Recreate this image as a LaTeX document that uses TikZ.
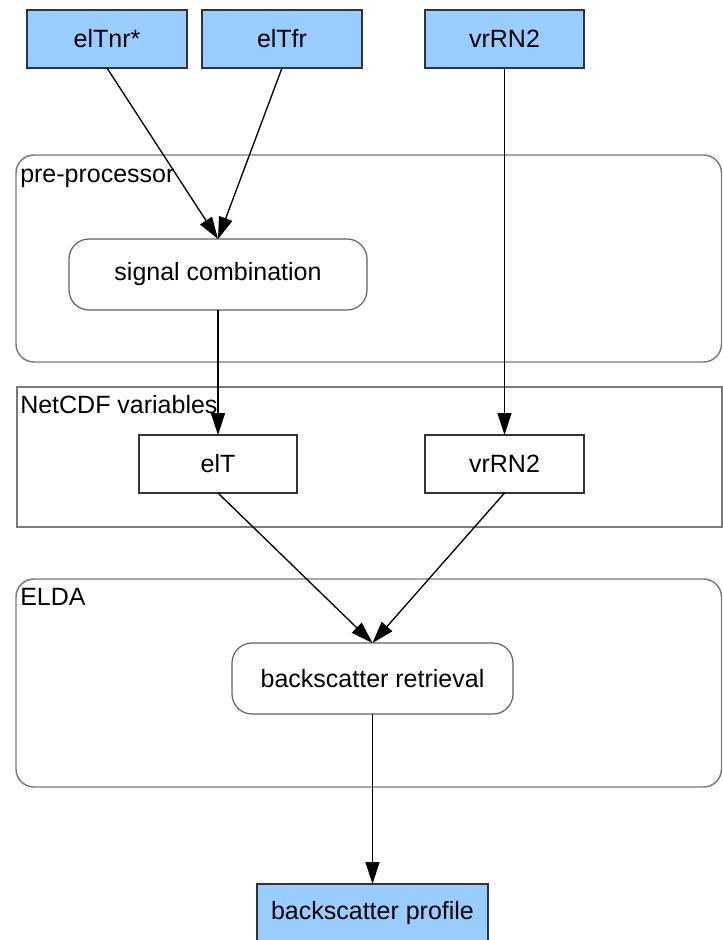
\documentclass[tikz,border=0pt]{standalone}
\usepackage{fontspec}
\setmainfont{Liberation Sans}
\usetikzlibrary{arrows.meta}
\definecolor{inputblue}{HTML}{99CCFF}
\definecolor{edgegray}{HTML}{333333}
\definecolor{framegray}{HTML}{7A7A7A}
\tikzset{
  px/.style={x=0.75pt,y=-0.75pt},
  txt/.style={font=\fontsize{18.75pt}{22pt}\selectfont, text=black},
  databox/.style={txt, draw=edgegray, line width=0.9pt, fill=inputblue,
    minimum height=43.5pt, inner sep=0pt, outer sep=0pt},
  varbox/.style={txt, draw=edgegray, line width=0.9pt, fill=white,
    minimum height=43.5pt, inner sep=0pt, outer sep=0pt},
  procbox/.style={txt, draw=framegray!80!black, line width=0.9pt, fill=white,
    rounded corners=15pt, minimum height=53.25pt, inner sep=0pt, outer sep=0pt},
  frame/.style={draw=framegray, line width=1.1pt},
  framelabel/.style={txt, anchor=base west, inner sep=0pt},
  flow/.style={draw=black, line width=1pt,
    -{Triangle[length=16.5pt,width=10.5pt]}},
}
\begin{document}
\begin{tikzpicture}[px]
\useasboundingbox (0,0) rectangle (723,940);

% containers
\draw[frame, rounded corners=13.5pt] (16,155) rectangle (721.5,362);
\draw[frame] (17,387) rectangle (722,527);
\draw[frame, rounded corners=13.5pt] (16,579) rectangle (721.5,787);

\node[framelabel] (lpre) at (20,182) {pre-processor};
\node[framelabel] (lnet) at (20,413) {NetCDF variables};
\node[framelabel] (lelda) at (20,605) {ELDA};

% input signals
\node[databox, minimum width=120pt] (nr) at (107,39) {elTnr*};
\node[databox, minimum width=120pt] (fr) at (282,39) {elTfr};
\node[databox, minimum width=119.25pt] (rn) at (504.5,39) {vrRN2};

% processing steps and variables
\node[procbox, minimum width=223.5pt] (sc) at (218,274.5) {signal combination};
\node[varbox, minimum width=118.5pt] (elt) at (218,464) {elT};
\node[varbox, minimum width=119.25pt] (vrn) at (504.5,464) {vrRN2};
\node[procbox, minimum width=210.75pt] (br) at (372.5,678.5) {backscatter retrieval};

% output product
\node[databox, minimum width=173.25pt] (bp) at (372.5,913) {backscatter profile};

% data flow
\draw[flow] (nr.south) -- (sc.north);
\draw[flow] (fr.south) -- (sc.north);
\draw[flow] (sc.south) -- (elt.north);
\draw[flow] (rn.south) -- (vrn.north);
\draw[flow] (elt.south) -- (br.north);
\draw[flow] (vrn.south) -- (br.north);
\draw[flow] (br.south) -- (bp.north);
\end{tikzpicture}
\end{document}
